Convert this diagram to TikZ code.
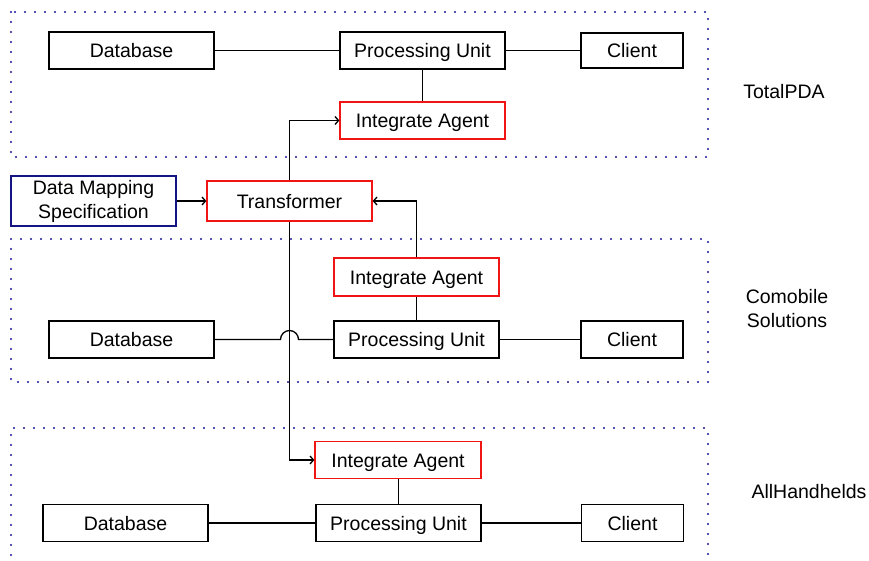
\documentclass[tikz,border=0pt]{standalone}
\usepackage{fontspec}
\setmainfont{Liberation Sans}
\usetikzlibrary{arrows.meta}
\definecolor{boxred}{RGB}{240,20,20}
\definecolor{specblue}{RGB}{20,20,130}
\definecolor{dotblue}{RGB}{25,25,150}
\tikzset{
  unit/.style={draw=black, line width=1.3pt, rectangle, inner sep=0pt,
    minimum width=165pt, minimum height=37pt, align=center,
    text height=14pt, text depth=0pt,
    font=\fontsize{19.5}{24}\selectfont},
  agentbox/.style={unit, draw=boxred},
  specbox/.style={draw=specblue, line width=1.3pt, rectangle, inner sep=0pt,
    minimum width=165pt, minimum height=50pt, align=center,
    font=\fontsize{19.5}{24}\selectfont},
  clientbox/.style={unit, minimum width=102pt},
  grouplabel/.style={align=center, font=\fontsize{19.5}{24}\selectfont},
  zone/.style={draw=dotblue, line width=2.2pt, line cap=round,
    dash pattern=on 0pt off 10pt},
  link/.style={line width=1.3pt},
  flow/.style={link, -{Straight Barb[length=3.5pt,width=8pt]}}
}
\begin{document}
\begin{tikzpicture}[x=1pt,y=-1pt]
\useasboundingbox (0,0) rectangle (869,560);

% dotted zones for the three companies
\draw[zone] (11,12) rectangle (708,157);
\draw[zone] (11,239) rectangle (708,382);
\draw[zone] (11,575) -- (11,428) -- (708,428) -- (708,575);

% TotalPDA
\node[unit] (db1) at (131.5,50.5) {Database};
\node[unit] (pu1) at (422.5,50.5) {Processing Unit};
\node[clientbox, minimum height=35pt] (cl1) at (632,50.5) {Client};
\node[agentbox] (ia1) at (422.5,120.5) {Integrate Agent};
\node[grouplabel] (lab1) at (784,92) {TotalPDA};

% transformer and its specification
\node[specbox] (dms) at (93.5,201) {Data Mapping\\Specification};
\node[agentbox, minimum height=40pt] (tr) at (289.5,201) {Transformer};

% Comobile Solutions
\node[agentbox, minimum height=38pt] (ia2) at (416.5,277) {Integrate Agent};
\node[unit] (db2) at (131.5,339.5) {Database};
\node[unit] (pu2) at (416.5,339.5) {Processing Unit};
\node[clientbox] (cl2) at (632,339.5) {Client};
\node[grouplabel] (lab2) at (787,309) {Comobile\\Solutions};

% AllHandhelds
\node[agentbox, minimum width=166pt] (ia3) at (398,460) {Integrate Agent};
\node[unit] (db3) at (125.5,523) {Database};
\node[unit] (pu3) at (398.5,523) {Processing Unit};
\node[clientbox] (cl3) at (632.5,523) {Client};
\node[grouplabel] (lab3) at (809,492) {AllHandhelds};

% links inside each company
\draw[link] (db1) -- (pu1);
\draw[link] (pu1) -- (cl1);
\draw[link] (pu1) -- (ia1);
\draw[link] (pu2) -- (cl2);
\draw[link] (pu2) -- (ia2);
\draw[link] (db3) -- (pu3);
\draw[link] (pu3) -- (cl3);
\draw[link] (ia3.south -| pu3.north) -- (pu3.north);

% data flows through the transformer
\draw[flow] (dms) -- (tr);
\draw[flow] (tr.north) |- (ia1.west);
\draw[flow] (ia2.north) |- (tr.east);
\draw[flow] (tr.south) |- (ia3.west);

% database link hopping over the transformer line
\coordinate (hop) at (tr.south |- db2.east);
\draw[link] (db2.east) -- ([xshift=-9pt]hop) arc[start angle=180, end angle=0, radius=9pt] -- (pu2.west);
\end{tikzpicture}
\end{document}
